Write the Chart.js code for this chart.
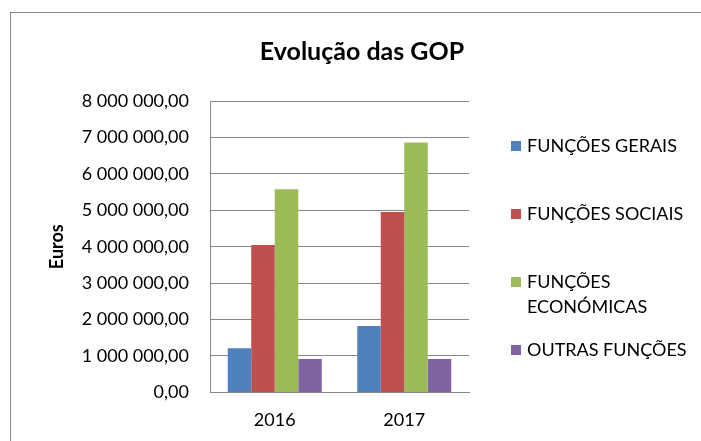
<!DOCTYPE html>
<html>
<head>
<meta charset="utf-8">
<script src="https://cdn.jsdelivr.net/npm/chart.js@4.4.1/dist/chart.umd.min.js"></script>
<style>
  html, body { margin: 0; padding: 0; background: #fff; }
  #wrap { width: 701px; height: 441px; }
</style>
</head>
<body>
<div id="wrap"><canvas id="gopChart" width="701" height="441"></canvas></div>
<script>
const years = ["2016", "2017"];
const chartTitle = "Evolução das GOP";
const seriesNames = ["FUNÇÕES GERAIS", "FUNÇÕES SOCIAIS", "FUNÇÕES ECONÓMICAS", "OUTRAS FUNÇÕES"];
const funcoesGerais = [1210000, 1820000];
const funcoesSociais = [4050000, 4950000];
const funcoesEconomicas = [5580000, 6860000];
const outrasFuncoes = [920000, 920000];
const seriesColors = ["#4F81BD", "#C0504D", "#9BBB59", "#8064A2"];

const FONT = "Lato";

// 1 000 000,00 style
function fmtEuro(v) {
  const parts = Number(v).toFixed(2).split(".");
  const intPart = parts[0].replace(/\B(?=(\d{3})+(?!\d))/g, " ");
  return intPart + "," + parts[1];
}

// frame around the chart, like the Excel chart border
const framePlugin = {
  id: "frame",
  beforeDraw(chart) {
    const c = chart.ctx;
    c.save();
    c.strokeStyle = "#868686";
    c.lineWidth = 1;
    c.strokeRect(10.5, 12.5, 760, 500);
    c.restore();
  }
};

// title centred on the whole chart + legend on the right with wrapped text
const sideLegend = {
  id: "sideLegend",
  afterDraw(chart) {
    const c = chart.ctx;
    c.save();
    c.fillStyle = "#000";
    c.font = "bold 25px " + FONT;
    c.textAlign = "center";
    c.textBaseline = "alphabetic";
    c.fillText(chartTitle, 362, 60);

    c.textAlign = "left";
    c.font = "18px " + FONT;
    c.textBaseline = "middle";
    chart.data.datasets.forEach((ds, i) => {
      const y = 146 + i * 68;
      c.fillStyle = ds.backgroundColor;
      c.fillRect(511, y - 5, 10, 10);
      c.fillStyle = "#000";
      let lines = [ds.label];
      if (c.measureText(ds.label).width > 168) lines = ds.label.split(" ");
      lines.forEach((ln, k) => c.fillText(ln, 527, y + k * 25));
    });
    c.restore();
  }
};

new Chart(document.getElementById("gopChart"), {
  type: "bar",
  data: {
    labels: years,
    datasets: [
      { label: seriesNames[0], data: funcoesGerais, backgroundColor: seriesColors[0] },
      { label: seriesNames[1], data: funcoesSociais, backgroundColor: seriesColors[1] },
      { label: seriesNames[2], data: funcoesEconomicas, backgroundColor: seriesColors[2] },
      { label: seriesNames[3], data: outrasFuncoes, backgroundColor: seriesColors[3] },
    ],
  },
  options: {
    responsive: false,
    animation: false,
    layout: { padding: { left: 0, right: 232, top: 101, bottom: -7 } },
    datasets: { bar: { barPercentage: 1, categoryPercentage: 0.726 } },
    plugins: {
      legend: { display: false },
      tooltip: { enabled: false },
      title: { display: false },
    },
    scales: {
      x: {
        grid: { display: false, drawTicks: false },
        border: { color: "#868686" },
        ticks: { color: "#000", font: { family: FONT, size: 18 }, padding: 17 },
      },
      y: {
        min: 0,
        max: 8000000,
        afterFit(scale) { scale.width = 210; },
        grid: { color: "#868686", drawTicks: false },
        border: { color: "#868686" },
        ticks: {
          stepSize: 1000000,
          color: "#000",
          padding: 21,
          font: { family: FONT, size: 18 },
          callback: (v) => fmtEuro(v),
        },
        title: {
          display: true,
          text: "Euros",
          color: "#000",
          font: { family: FONT, size: 18, weight: "bold" },
          padding: { top: 46, bottom: 0 },
        },
      },
    },
  },
  plugins: [framePlugin, sideLegend],
});
</script>
</body>
</html>
